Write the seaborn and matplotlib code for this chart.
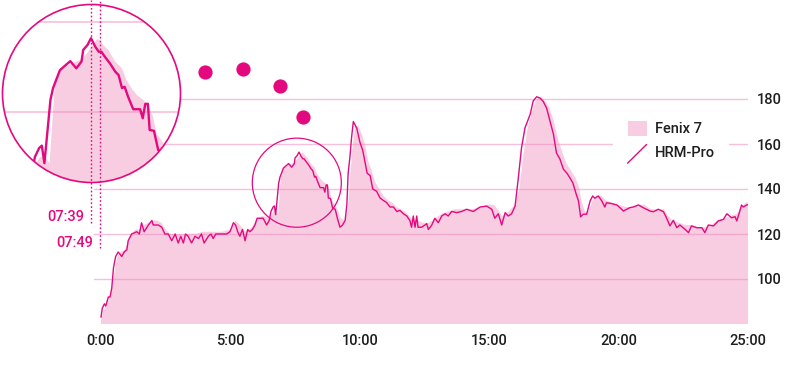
import matplotlib
matplotlib.use("Agg")
import matplotlib.pyplot as plt
import seaborn as sns
import pandas as pd
from matplotlib.patches import Circle, Ellipse, Patch
from matplotlib.lines import Line2D
from matplotlib.legend_handler import HandlerBase
from matplotlib.transforms import blended_transform_factory

# --- data: heart rate (bpm) over time (seconds) ---
# HRM-Pro chest strap
hrm_t = [0, 3, 8, 11, 17, 21, 25, 29, 34, 40, 48, 54, 60, 63, 71, 83, 89, 94, 100, 110,
         118, 121, 133, 141, 148, 156, 164, 172, 179, 185, 191, 196, 202, 210, 218, 226, 233, 239, 249, 255,
         260, 266, 276, 284, 291, 299, 307, 312, 317, 322, 328, 334, 340, 345, 351, 357, 362, 370, 376, 384,
         390, 394, 399, 402, 405, 412, 415, 423, 435, 442, 448, 450, 455, 459, 464, 468, 471, 475, 481, 487,
         491, 495, 498, 502, 508, 516, 519, 522, 525, 527, 532, 537, 543, 548, 554, 560, 566, 570, 573, 577,
         581, 585, 593, 600, 607, 612, 617, 624, 630, 639, 647, 654, 662, 670, 678, 686, 693, 701, 709, 716,
         720, 724, 728, 732, 735, 743, 751, 755, 759, 767, 774, 782, 790, 798, 805, 813, 825, 836, 848, 863,
         879, 894, 906, 913, 921, 929, 937, 944, 952, 960, 967, 975, 983, 995, 1002, 1010, 1018, 1025, 1033, 1041,
         1049, 1056, 1064, 1072, 1080, 1087, 1094, 1103, 1107, 1112, 1118, 1126, 1134, 1140, 1145, 1153, 1161, 1168, 1172, 1184,
         1196, 1207, 1211, 1219, 1226, 1234, 1246, 1257, 1273, 1281, 1292, 1304, 1311, 1319, 1327, 1335, 1342, 1354, 1362, 1369,
         1381, 1393, 1400, 1408, 1420, 1431, 1443, 1451, 1462, 1470, 1474, 1481, 1485, 1489, 1497, 1500]
hrm_bpm = [83, 87, 89, 88, 92, 92, 96, 105, 110, 112, 110, 112, 113, 117, 120, 121, 120, 125, 121, 124,
           126, 124, 124, 123, 120, 120, 117, 120, 116, 119, 116, 120, 119, 116, 119, 118, 120, 116, 119, 120,
           118, 120, 120, 120, 120, 121, 125, 124, 121, 119, 122, 117, 122, 121, 122, 124, 127, 127, 127, 124,
           126, 130, 132, 132.5, 128.6, 142.7, 145.3, 149.3, 151.3, 149.7, 151.2, 153.8, 154.9, 156.4, 154.5, 153.4, 153.4, 152.3, 150.8, 149,
           148.2, 145.3, 145.6, 143.4, 140.6, 140.6, 138.6, 141.8, 141.8, 136, 135.8, 131.5, 131, 127, 123, 124, 126, 133, 147, 154,
           163, 170, 167, 161, 157, 152, 147, 146, 140, 139, 136, 135, 134, 132, 132, 130, 130.5, 129, 128, 126,
           123, 128, 123, 128, 123, 123, 124, 124.6, 122, 124, 127, 125, 128, 129, 128, 130, 129.5, 130, 131, 130,
           132, 132.4, 131, 127, 129, 124, 129.5, 128, 129, 132.4, 144, 158.4, 167.2, 173.2, 179.1, 181, 180.4, 179, 176, 170.2,
           164.3, 156, 153.3, 148.8, 147.1, 145, 142.7, 136.9, 134.7, 127.6, 128.8, 128.8, 134.7, 136.9, 135.9, 136.9, 134.7, 132, 133.9, 133.5,
           132.9, 131, 130.2, 131, 131.7, 132, 132.9, 131.7, 130.2, 129.9, 131, 129.9, 127.2, 123.6, 126.1, 122.8, 124, 122.1, 120.6, 123.6,
           122.8, 122.8, 120.6, 124, 123.6, 125.8, 126.5, 129, 127.2, 127.7, 125.8, 130.2, 132.9, 132, 132.9, 133]

# Fenix 7 watch (optical)
fenix_t = [0, 6, 12, 20, 27, 32, 38, 46, 55, 62, 70, 80, 90, 100, 110, 120, 130, 140, 150, 160,
           175, 190, 205, 220, 235, 250, 265, 280, 300, 312, 322, 335, 350, 362, 375, 390, 400, 406, 411, 417,
           423, 437, 448, 454, 460, 466, 469, 475, 479, 487, 495, 500, 506, 512, 520, 526, 531, 535, 543, 548,
           556, 565, 572, 578, 584, 590, 597, 605, 612, 620, 628, 636, 645, 655, 665, 675, 685, 695, 705, 715,
           725, 735, 745, 760, 775, 790, 805, 820, 840, 860, 880, 895, 910, 920, 930, 945, 960, 970, 980, 990,
           1000, 1010, 1020, 1030, 1040, 1050, 1060, 1070, 1080, 1090, 1100, 1108, 1115, 1122, 1130, 1140, 1150, 1160, 1170, 1185,
           1200, 1215, 1230, 1245, 1260, 1275, 1290, 1305, 1315, 1325, 1340, 1355, 1370, 1385, 1400, 1415, 1430, 1445, 1460, 1475,
           1485, 1495, 1500]
fenix_bpm = [82, 86, 88, 92, 97, 104, 110, 112, 113, 116, 120, 122, 122, 124, 125, 126, 126, 125, 122, 120,
             120, 120, 120, 120, 121, 121, 121, 121, 122, 126, 124, 121, 123, 127, 128, 127, 130, 130, 128.6, 145.6,
             149.3, 150.8, 151.7, 153, 154.5, 156.2, 156, 154.5, 153.8, 151.2, 149.7, 147.1, 145.3, 143.8, 142.6, 141.2, 138.9, 135.2, 133, 131,
             127, 126, 130, 146, 160, 168, 168, 164, 160, 152, 148, 143, 140, 137, 135, 134, 132, 131, 130, 128,
             126, 126, 125, 125, 127, 129, 130, 131, 131, 131, 132, 133, 133, 131, 128, 130, 133, 140, 156, 168,
             175, 180, 181, 179, 176, 170, 162, 156, 151, 148, 145, 141, 134, 130, 130, 135, 137, 137, 135, 134,
             133, 132, 132, 133, 133, 131, 131, 131, 128, 126, 125, 124, 124, 123, 123, 124, 126, 127, 128, 129,
             132, 134, 134]

x_ticks = [0, 300, 600, 900, 1200, 1500]
x_labels = ["0:00", "5:00", "10:00", "15:00", "20:00", "25:00"]
y_ticks = [100, 120, 140, 160, 180]

# the two peaks marked in the magnifier
peak_t = [459, 469]
peak_labels = ["07:39", "07:49"]

# magnifier window: centre and half-size (seconds, bpm)
zoom_t, zoom_bpm = 459.6, 144.1
zoom_dt, zoom_dbpm = 103.2, 19.8

# small circle on the main chart
spot_t, spot_bpm = 454, 142.8

# dots that lead from the magnifier to the small circle
dot_t = [240, 330, 416, 468]
dot_bpm = [192.1, 193.3, 185.6, 171.9]

MAG = "#e5097f"
PINK = "#f8cde1"
GRID = "#f08cbd"
TXT = "#1e1e1e"

hrm = pd.DataFrame({"t": hrm_t, "bpm": hrm_bpm})

sns.set_theme(style="white")
plt.rcParams["font.family"] = ["Roboto", "DejaVu Sans"]

fig = plt.figure(figsize=(8, 3.78), dpi=100)
W, H = 800, 378

# main chart
ax = fig.add_axes([94 / W, 54 / H, 654 / W, 324 / H])
ax.set_xlim(-16.2, 1500)
ax.set_ylim(80, 80 + 324 / 2.25)
ax.fill_between(fenix_t, fenix_bpm, 0, color=PINK, lw=0, zorder=1)
for y in y_ticks:
    ax.axhline(y, color=GRID, lw=1, alpha=0.55, zorder=2)
sns.lineplot(data=hrm, x="t", y="bpm", ax=ax, color=MAG, lw=1.0, zorder=3)
ax.add_patch(Ellipse((spot_t, spot_bpm), 2 * zoom_dt, 2 * zoom_dbpm,
                     fill=False, ec=MAG, lw=0.9, zorder=4))
ax.scatter(dot_t, dot_bpm, s=105, color=MAG, lw=0, zorder=4, clip_on=False)

ax.set_xticks(x_ticks, x_labels)
ax.set_yticks(y_ticks)
ax.yaxis.tick_right()
ax.tick_params(length=0, labelsize=10.5, colors=TXT)
ax.tick_params(axis="x", pad=7)
ax.tick_params(axis="y", pad=6)
for lab in ax.get_xticklabels() + ax.get_yticklabels():
    lab.set_fontweight("medium")
ax.set_xlabel("")
ax.set_ylabel("")
sns.despine(ax=ax, left=True, bottom=True)


# legend with a slanted line for the strap
class SlantLine(HandlerBase):
    def create_artists(self, legend, orig_handle, xdescent, ydescent,
                       width, height, fontsize, trans):
        ln = Line2D([-xdescent, width - xdescent], [-ydescent - 2, height - ydescent])
        ln.update_from(orig_handle)
        ln.set_transform(trans)
        return [ln]


handles = [Patch(facecolor=PINK, edgecolor="none", label="Fenix 7"),
           Line2D([], [], color=MAG, lw=1.0, label="HRM-Pro")]
leg = ax.legend(handles=handles, loc="upper left",
                bbox_to_anchor=(613 / W, 1 - 106 / H), bbox_transform=fig.transFigure,
                frameon=True, facecolor="white", edgecolor="none", framealpha=1,
                prop={"size": 10.5, "weight": "medium"},
                handlelength=1.3, handleheight=1.3, handletextpad=0.55,
                labelspacing=0.55, borderpad=1.0, borderaxespad=0,
                handler_map={Line2D: SlantLine()})
leg.set_zorder(5)
for t in leg.get_texts():
    t.set_color(TXT)

# magnifier
axi = fig.add_axes([2.5 / W, (H - 182.5) / H, 178 / W, 178 / H])
axi.set_xlim(zoom_t - zoom_dt, zoom_t + zoom_dt)
axi.set_ylim(zoom_bpm - zoom_dbpm, zoom_bpm + zoom_dbpm)
axi.patch.set_visible(False)
axi.set_axis_off()
disc = Circle((0.5, 0.5), 0.5, transform=axi.transAxes, fc="white", ec="none", zorder=0)
axi.add_patch(disc)
axi.fill_between(fenix_t, fenix_bpm, 0, color=PINK, lw=0, zorder=1)
for y in y_ticks:
    axi.axhline(y, color=GRID, lw=1.2, alpha=0.55, zorder=2)
sns.lineplot(data=hrm, x="t", y="bpm", ax=axi, color=MAG, lw=1.7, zorder=3)
for art in axi.get_children():
    if art is not disc and hasattr(art, "set_clip_path") and art is not axi.patch:
        art.set_clip_path(disc)
axi.add_patch(Circle((0.5, 0.5), 0.5, transform=axi.transAxes, fill=False,
                     ec=MAG, lw=1.2, zorder=6, clip_on=False))

# dotted markers for the two peaks
tr = blended_transform_factory(axi.transData, fig.transFigure)
ends = [1 - 223 / H, 1 - 248 / H]
label_y = [1 - 217 / H, 1 - 243 / H]
for t, lab, y0, ly in zip(peak_t, peak_labels, ends, label_y):
    fig.add_artist(Line2D([t, t], [y0, 1], transform=tr, color=MAG, lw=1.0,
                          ls=(0, (1.2, 1.6)), zorder=7))
    fig.text(t - 8, ly, lab, transform=tr, color=MAG, fontsize=10.5, fontweight="medium",
             ha="right", va="center")

fig.savefig("out.png", dpi=100)
